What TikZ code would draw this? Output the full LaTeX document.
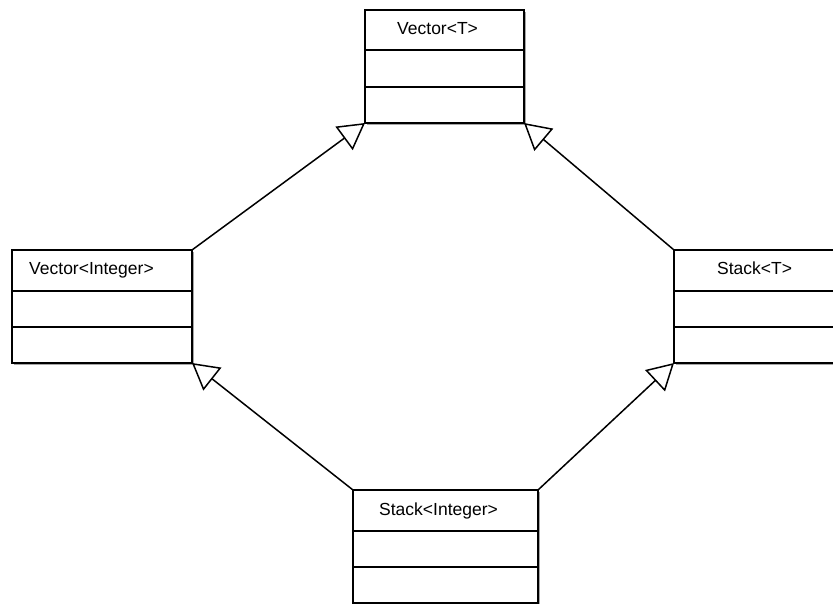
\documentclass[tikz,border=0pt]{standalone}
\usepackage{fontspec}
\setmainfont{Liberation Sans}
\usetikzlibrary{arrows.meta,calc,shadows}
\begin{document}
\begin{tikzpicture}[x=1pt,y=-1pt,
  cls/.style={draw, line width=1.6pt, fill=white, minimum width=#1, minimum height=113pt,
    inner sep=0pt, outer sep=0pt, anchor=north west,
    drop shadow={shadow xshift=2pt, shadow yshift=-2pt, fill=gray!70, opacity=1}},
  title/.style={anchor=base west, inner sep=0pt, font=\fontsize{17.5}{20}\selectfont},
  divider/.style={line width=1.6pt},
  inh/.style={line width=1.5pt, -{Triangle[open, length=26pt, width=29pt, fill=white]}}]
\useasboundingbox (0,0) rectangle (833,604);
\fill[white] (0,0) rectangle (833,604);

\node[cls=159pt] (top) at (365,10) {};
\node[cls=180pt] (left) at (12,250) {};
\node[cls=180pt] (right) at (674,250) {};
\node[cls=185pt] (bot) at (353,490) {};

\foreach \b/\d in {top/40,left/41,right/41,bot/41}{
  \draw[divider] ($(\b.north west)+(0,\d)$) -- ($(\b.north east)+(0,\d)$);
  \draw[divider] ($(\b.north west)+(0,77)$) -- ($(\b.north east)+(0,77)$);
}

\node[title] (tT) at (397,35) {Vector<T>};
\node[title] (tL) at (29,275) {Vector<Integer>};
\node[title] (tR) at (717,275) {Stack<T>};
\node[title] (tB) at (379,515) {Stack<Integer>};

\draw[inh] (left.north east) -- (top.south west);
\draw[inh] (right.north west) -- (top.south east);
\draw[inh] (bot.north west) -- (left.south east);
\draw[inh] (bot.north east) -- (right.south west);
\end{tikzpicture}
\end{document}
